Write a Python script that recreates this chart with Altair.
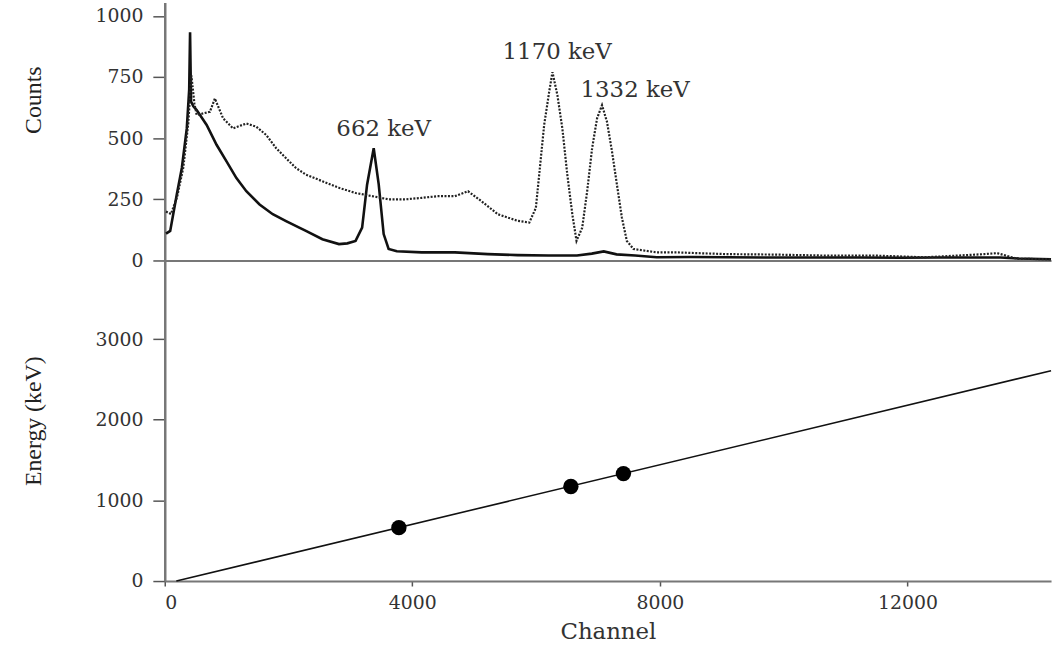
import altair as alt
import pandas as pd

# ---- data ----
cs_channel = [20, 88, 195, 276, 356, 395, 409, 425, 462, 516, 677, 837, 998, 1158, 1318, 1532,
              1745, 1960, 2173, 2281, 2547, 2815, 2950, 3083, 3189, 3269, 3376, 3457, 3537,
              3617, 3750, 4151, 4687, 5221, 5700, 6200, 6660, 6900, 7093, 7300, 7600, 7948,
              8500, 9100, 9800, 10500, 11200, 11900, 12500, 13000, 13500, 13800, 14320]
cs_counts = [110, 121, 271, 378, 540, 700, 933, 650, 630, 615, 554, 473, 405, 337, 283, 229,
             189, 161, 134, 121, 87, 67, 70, 80, 134, 310, 459, 311, 108,
             47, 38, 33, 33, 26, 22, 20, 20, 28, 37, 25, 20, 13,
             14, 13, 12, 12, 12, 11, 12, 12, 12, 8, 5]

co_channel = [20, 100, 200, 300, 380, 430, 480, 516, 600, 730, 810, 943, 1104, 1318, 1479,
              1640, 1800, 1960, 2120, 2281, 2547, 2815, 3083, 3349, 3617, 3885, 4151, 4419,
              4687, 4900, 5114, 5382, 5703, 5890, 5996, 6050, 6130, 6211, 6264, 6344, 6424,
              6504, 6585, 6653, 6745, 6825, 6905, 6985, 7065, 7145, 7226, 7306, 7386, 7466,
              7573, 7948, 8269, 9071, 9873, 10675, 11477, 12279, 12810, 13240, 13450, 13770,
              14320]
co_counts = [200, 190, 260, 380, 560, 757, 640, 595, 600, 608, 662, 581, 540, 560, 547,
             513, 459, 418, 378, 351, 324, 297, 276, 263, 250, 250, 256, 263,
             263, 283, 243, 189, 162, 155, 215, 351, 554, 689, 770, 676, 540,
             351, 189, 80, 134, 283, 459, 581, 635, 567, 446, 310, 175, 80,
             47, 33, 33, 26, 24, 20, 20, 13, 20, 26, 30, 7,
             5]

peak_labels = ["662 keV", "1170 keV", "1332 keV"]
label_channel = [3537, 6340, 7600]
label_counts = [539, 851, 696]

cal_channel = [3783, 6562, 7411]
cal_energy = [662, 1173, 1332]
fit_channel = [187, 14320]
fit_energy = [0, 2608]

# ---- tables ----
cs_df = pd.DataFrame({"channel": cs_channel, "counts": cs_counts})
co_df = pd.DataFrame({"channel": co_channel, "counts": co_counts})
lab_df = pd.DataFrame({"channel": label_channel, "counts": label_counts, "label": peak_labels})
cal_df = pd.DataFrame({"channel": cal_channel, "energy": cal_energy})
fit_df = pd.DataFrame({"channel": fit_channel, "energy": fit_energy})

SERIF = "DejaVu Serif"
NARROW = "Liberation Serif"
xscale = alt.Scale(domain=[0, 14320], nice=False, zero=False)

W = 893

top_x = alt.X("channel:Q", scale=xscale,
              axis=alt.Axis(labels=False, ticks=False, title=None, grid=False,
                            domainColor="#777", domainWidth=2))
top_y = alt.Y("counts:Q", scale=alt.Scale(domain=[0, 1055], nice=False),
              axis=alt.Axis(values=[0, 250, 500, 750, 1000], format="d", title="Counts",
                            titleX=-132, titleY=98, titleBaseline="middle",
                            titleFont=NARROW, titleFontSize=24, titleFontWeight="normal",
                            titleColor="#222", grid=False))

cs_line = alt.Chart(cs_df).mark_line(color="#111", strokeWidth=2.6).encode(x=top_x, y=top_y)
co_line = alt.Chart(co_df).mark_line(color="#222", strokeWidth=2.2, strokeDash=[2, 1.5]).encode(
    x="channel:Q", y="counts:Q")
labels = alt.Chart(lab_df).mark_text(font=SERIF, fontSize=23, color="#333",
                                     align="center", baseline="middle").encode(
    x="channel:Q", y="counts:Q", text="label:N")

top = alt.layer(cs_line, co_line, labels).properties(width=W, height=260)

bot_x = alt.X("channel:Q", scale=xscale,
              axis=alt.Axis(values=[0, 4000, 8000, 12000], format="d", title="Channel",
                            grid=False, tickSize=5, labelPadding=8, titlePadding=8,
                            titleFont=SERIF, titleFontSize=23, titleFontWeight="normal",
                            titleColor="#333", domainColor="#777", domainWidth=2))
bot_y = alt.Y("energy:Q", scale=alt.Scale(domain=[0, 3975], nice=False),
              axis=alt.Axis(values=[0, 1000, 2000, 3000], format="d", title="Energy (keV)",
                            titleX=-132, titleBaseline="middle",
                            titleFont=NARROW, titleFontSize=24, titleFontWeight="normal",
                            titleColor="#222", grid=False))

fit_line = alt.Chart(fit_df).mark_line(color="#111", strokeWidth=1.6).encode(x=bot_x, y=bot_y)
cal_pts = alt.Chart(cal_df).mark_circle(color="#000", opacity=1, size=240).encode(
    x="channel:Q", y="energy:Q")

bottom = alt.layer(fit_line, cal_pts).properties(width=W, height=323)

chart = alt.vconcat(top, bottom, spacing=0, bounds="flush").properties(
    padding={"left": 22, "top": 0, "right": 0, "bottom": 0},
    background="white"
).configure_view(stroke=None).configure_axis(
    labelFont=SERIF, labelFontSize=19, labelColor="#333",
    tickColor="#555", tickWidth=1.5, tickSize=12, labelPadding=10,
    domainColor="#777", domainWidth=2.5
)

chart.save("out.html", embed_options={"renderer": "svg", "actions": False})
